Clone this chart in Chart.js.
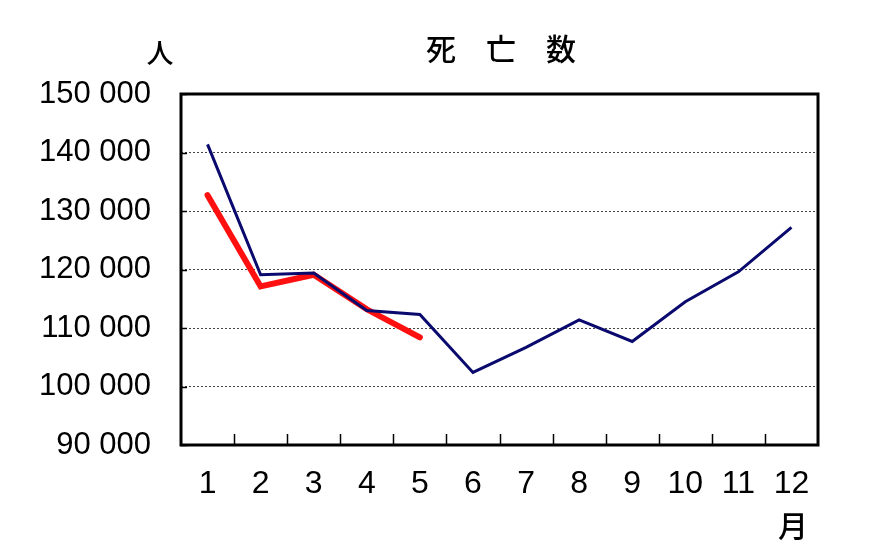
<!DOCTYPE html>
<html><head><meta charset="utf-8">
<script src="https://cdn.jsdelivr.net/npm/chart.js@4/dist/chart.umd.min.js"></script>
<style>html,body{margin:0;padding:0;background:#fff;}#wrap{width:870px;height:557px;}</style>
</head><body><div id="wrap"><canvas id="c" width="870" height="557"></canvas></div>
<script>
const months = ['1','2','3','4','5','6','7','8','9','10','11','12'];
const prevYear = [141400, 119100, 119400, 113000, 112300, 102400, 106700, 111400, 107700, 114500, 119600, 127200];
const thisYear = [132700, 117100, 119100, 113200, 108400];
const yMin = 90000, yMax = 150000, yStep = 10000;
const titleText = '死　亡　数';
const yUnit = '人';
const xUnit = '月';
const fmt = v => String(v).replace(/\B(?=(\d{3})+(?!\d))/g, ' ');
const FONT = '"Liberation Sans", Arial, sans-serif';
const CJK = '"Noto Sans CJK JP", sans-serif';

const decor = {
  id: 'decor',
  afterDraw(chart) {
    const ctx = chart.ctx, a = chart.chartArea, xs = chart.scales.x, ys = chart.scales.y;
    ctx.save();
    ctx.strokeStyle = '#000'; ctx.lineWidth = 1.5;
    for (let i = 1; i < months.length; i++) {
      const x = Math.round((xs.getPixelForTick(i - 1) + xs.getPixelForTick(i)) / 2) + 0.5;
      ctx.beginPath(); ctx.moveTo(x, a.bottom); ctx.lineTo(x, a.bottom - 11); ctx.stroke();
    }
    ys.ticks.forEach((t, i) => {
      const y = Math.round(ys.getPixelForTick(i)) + 0.5;
      ctx.beginPath(); ctx.moveTo(a.left, y); ctx.lineTo(a.left + 6, y); ctx.stroke();
    });
    ctx.lineWidth = 3; ctx.strokeStyle = '#000';
    ctx.strokeRect(a.left, a.top, a.right - a.left, a.bottom - a.top);
    ctx.fillStyle = '#000'; ctx.textAlign = 'center'; ctx.textBaseline = 'middle';
    ctx.font = '500 30px ' + CJK;
    ctx.fillText(titleText, 501, 49);
    ctx.font = '500 27px ' + CJK;
    ctx.fillText(yUnit, 160, 53);
    ctx.font = '500 30px ' + CJK;
    ctx.fillText(xUnit, 793, 526);
    ctx.restore();
  }
};

new Chart(document.getElementById('c'), {
  type: 'line',
  data: {
    labels: months,
    datasets: [
      { data: prevYear, borderColor: '#0a0a6e', borderWidth: 3, pointRadius: 0, tension: 0, fill: false },
      { data: thisYear, borderColor: '#ff1010', borderWidth: 6, pointRadius: 0, tension: 0, fill: false, borderCapStyle: 'round' }
    ]
  },
  options: {
    responsive: false, animation: false, devicePixelRatio: 1,
    layout: { padding: { top: 94, right: 52, left: 0, bottom: 0 } },
    plugins: { legend: { display: false }, tooltip: { enabled: false }, title: { display: false } },
    scales: {
      x: {
        offset: true,
        afterFit(s) { s.height = 112; },
        grid: { display: false, drawTicks: false },
        border: { display: false },
        ticks: { color: '#000', padding: 20, font: { family: FONT, size: 32 }, maxRotation: 0, autoSkip: false }
      },
      y: {
        min: yMin, max: yMax,
        afterFit(s) { s.width = 181; },
        grid: { color: '#444', lineWidth: 1, drawTicks: false },
        border: { display: false, dash: [2, 2] },
        ticks: { stepSize: yStep, color: '#000', padding: 30, font: { family: FONT, size: 31 }, callback: v => fmt(v) }
      }
    }
  },
  plugins: [decor]
});
</script>
</body></html>
